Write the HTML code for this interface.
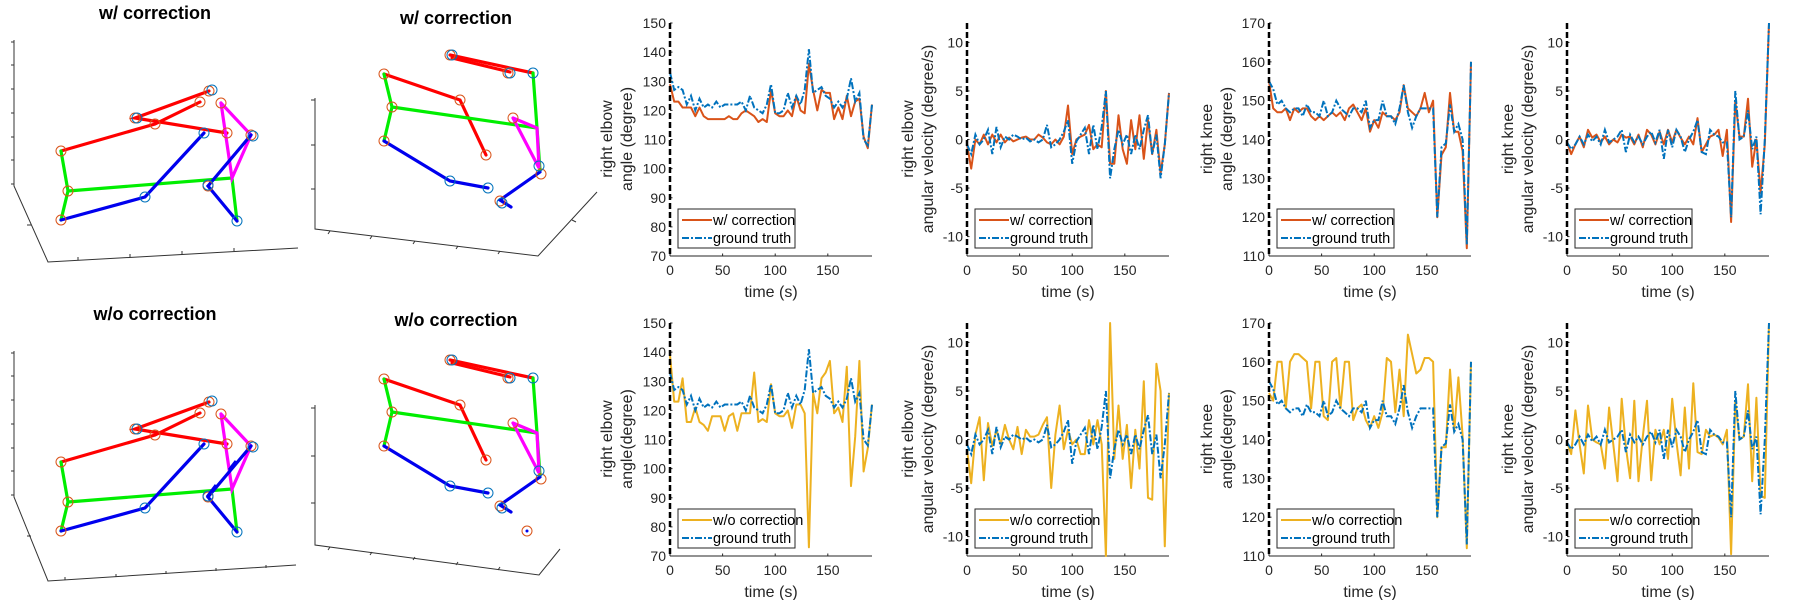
<!DOCTYPE html>
<html><head><meta charset="utf-8"><style>
html,body{margin:0;padding:0;background:#fff;}
svg{display:block;font-family:"Liberation Sans",sans-serif;}
</style></head><body>
<svg id="fig" width="1800" height="600" viewBox="0 0 1800 600" xmlns="http://www.w3.org/2000/svg">
<defs>
<g id="skel1">
  <g stroke-width="3.2" fill="none" stroke-linecap="round">
    <polyline points="61,151 155,124 200,102" stroke="#ff0000"/>
    <polyline points="209,91 135,118 227,133" stroke="#ff0000"/>
    <polyline points="61,151 68,191 61,220" stroke="#00ee00"/>
    <polyline points="68,191 232,178 237,221" stroke="#00ee00"/>
    <polyline points="221,103 251,135 232,178 221,103" stroke="#ff00ff"/>
    <polyline points="61,220 145,197 204,133" stroke="#0000ee"/>
    <polyline points="237,221 208,186 251,135" stroke="#0000ee"/>
  </g>
  <g fill="none" stroke-width="1">
    <g stroke="#D95319"><circle cx="61" cy="151" r="5"/><circle cx="155" cy="124" r="5"/><circle cx="200" cy="102" r="5"/><circle cx="209" cy="91" r="5"/><circle cx="135" cy="118" r="5"/><circle cx="227" cy="133" r="5"/><circle cx="68" cy="191" r="5"/><circle cx="61" cy="220" r="5"/><circle cx="208" cy="186" r="5"/><circle cx="221" cy="103" r="5"/><circle cx="251" cy="135" r="5"/></g>
    <g stroke="#0072BD"><circle cx="212" cy="90" r="5"/><circle cx="137" cy="118" r="5"/><circle cx="204" cy="133" r="5"/><circle cx="145" cy="197" r="5"/><circle cx="237" cy="221" r="5"/><circle cx="208" cy="185" r="5"/><circle cx="253" cy="136" r="5"/></g>
  </g>
</g>
<g id="skel2">
  <g stroke-width="3.2" fill="none" stroke-linecap="round">
    <polyline points="450,55 533,73" stroke="#ff0000"/>
    <polyline points="452,58 510,72" stroke="#ff0000"/>
    <polyline points="384,74 460,100 486,155" stroke="#ff0000"/>
    <polyline points="384,74 392,107 384,141" stroke="#00ee00"/>
    <polyline points="392,107 537,128" stroke="#00ee00"/>
    <polyline points="533,73 537,128 540,170" stroke="#00ee00"/>
    <polyline points="513,118 537,128 539,168 513,118" stroke="#ff00ff"/>
    <polyline points="384,141 450,181 488,188" stroke="#0000ee"/>
    <polyline points="540,172 500,200 511,207" stroke="#0000ee"/>
  </g>
  <g fill="none" stroke-width="1">
    <g stroke="#D95319"><circle cx="450" cy="55" r="5"/><circle cx="384" cy="74" r="5"/><circle cx="460" cy="100" r="5"/><circle cx="486" cy="155" r="5"/><circle cx="392" cy="107" r="5"/><circle cx="384" cy="141" r="5"/><circle cx="508" cy="73" r="5"/><circle cx="513" cy="118" r="5"/><circle cx="541" cy="174" r="5"/><circle cx="500" cy="201" r="5"/></g>
    <g stroke="#0072BD"><circle cx="452" cy="55" r="5"/><circle cx="510" cy="73" r="5"/><circle cx="533" cy="73" r="5"/><circle cx="450" cy="181" r="5"/><circle cx="488" cy="188" r="5"/><circle cx="539" cy="166" r="5"/><circle cx="502" cy="203" r="5"/></g>
  </g>
</g>
</defs>

<g>
  <text x="155" y="19" text-anchor="middle" font-size="18" font-weight="bold">w/ correction</text>
  <g stroke="#333" stroke-width="1" fill="none">
    <polyline points="14,40 14,186 48,262 298,248"/>
    <path d="M14,42h-3M14,65h-3M14,89h-3M14,113h-3M14,137h-3M14,160h-3M14,184h-3M31,225h-4M78,260v-3M130,257v-3M182,254v-3M234,251v-3"/>
  </g>
  <use href="#skel1"/>
</g>
<g>
  <text x="456" y="24" text-anchor="middle" font-size="18" font-weight="bold">w/ correction</text>
  <g stroke="#333" stroke-width="1" fill="none">
    <polyline points="315,98 315,229 538,256 597,192"/>
    <path d="M315,100h-4M315,145h-4M315,189h-4M330,231l-2,3M372,236l-2,3M415,241l-2,3M458,246l-2,3M500,251l-2,3M572,220l4,2"/>
  </g>
  <use href="#skel2"/>
</g>
<g>
  <text x="155" y="320" text-anchor="middle" font-size="18" font-weight="bold">w/o correction</text>
  <g transform="translate(0,311)">
    <g stroke="#333" stroke-width="1" fill="none">
      <polyline points="14,40 14,186 48,270 296,254"/>
      <path d="M14,42h-3M14,65h-3M14,89h-3M14,113h-3M14,137h-3M14,160h-3M14,184h-3M31,225h-4M65,269v-3M116,266v-3M166,263v-3M216,260v-3M266,257v-3"/>
    </g>
    <use href="#skel1"/>
    <g stroke="#0000ee" stroke-width="3" fill="none"><path d="M207,186 L216,174 M229,159 L236,150"/></g>
  </g>
</g>
<g>
  <text x="456" y="326" text-anchor="middle" font-size="18" font-weight="bold">w/o correction</text>
  <g transform="translate(0,305)">
    <g stroke="#333" stroke-width="1" fill="none">
      <polyline points="315,100 315,240 539,270 560,244"/>
      <path d="M315,103h-4M315,151h-4M315,198h-4M330,242l-2,3M372,247l-2,3M415,252l-2,3M458,257l-2,3M500,262l-2,3"/>
    </g>
    <use href="#skel2"/>
    <circle cx="527" cy="226" r="5" fill="none" stroke="#D95319"/><circle cx="527" cy="226" r="1.5" fill="#0000ee"/>
  </g>
</g>

<g id="charts"></g>
</svg>
<script>
const times = [0,4,8,12,16,20,24,28,32,36,40,44,48,52,56,60,64,68,72,76,80,84,88,92,96,100,104,108,112,116,120,124,128,132,136,140,144,148,152,156,160,164,168,172,176,180,184,188,192];
const elbowGT = [133,127,128,127,122,125,120,124,121,122,121,123,121,122,122,122,122,123,120,125,121,120,119,122,129,119,119,120,126,121,125,122,127,141,126,127,128,125,124,121,123,121,124,131,123,126,110,108,122];
const elbowW = [129,123,123,121,121,121,118,121,118,117,117,117,117,117,118,117,117,119,120,119,118,116,117,116,127,119,118,118,120,118,125,120,119,136,127,120,127,126,126,117,121,117,125,118,123,124,111,107,122];
const elbowWo = [139,123,123,131,116,116,121,116,115,113,118,118,118,113,118,119,113,119,119,119,133,116,117,116,129,119,118,118,120,114,122,122,119,73,126,119,131,133,137,119,121,116,135,94,111,137,99,107,122];
const elbowVelGT = [-0.5,-1.5,0.5,-0.5,0,1,-1.5,1.3,-0.8,0.3,0,0.5,0.3,0,0.2,-0.2,0,-0.3,0,1.5,-0.8,-0.5,0,0.8,2,-2.5,-0.2,0.5,1.2,-1.5,1.5,-1,1.3,5,-4,-1,1,-0.5,0.5,-1.5,0.5,-1,1,2.5,-1.5,0.5,-4,-0.5,4.8];
const elbowVelW = [-0.5,-3,0,-0.5,0.5,-0.5,0.5,-0.3,0.5,-0.3,0.2,-0.2,0,0.2,0.3,0,0,0.5,0.2,-0.3,-0.5,0,-0.5,0.3,3.5,-1.5,0,0.3,0.5,1.5,-1,-0.5,-0.8,5,-2.5,-2.5,2.5,-1,-2.5,2,-1,2.5,-2,2,-1.5,1,-3.5,-0.5,4.8];
const elbowVelWo = [-1,-4.5,0.5,2.3,-4.2,1.7,-0.7,1,-0.5,1.5,0,-1,1.3,-1.5,1,0.3,0.3,0.5,1.5,2.3,-5,0.5,3.5,-1,1,-0.5,0,-1.5,-1.5,2,-0.5,2,-0.5,-12,12,-2,3.5,-2,1.5,-5,1,-3,6,-6,-6.2,7.8,5,-11,4.8];
const kneeGT = [155,153,149,150,148,147,148,148,146,149,147,147,146,150,146,147,150,148,147,146,148,148,147,150,143,145,145,150,146,146,144,148,154,147,143,146,148,148,148,148,120,138,139,149,142,144,140,113,160];
const kneeW = [155,148,147,147,148,145,148,147,148,148,146,145,146,145,146,147,146,147,145,148,149,147,145,148,142,145,143,147,146,146,145,147,154,148,147,146,148,152,147,150,120,136,138,152,142,142,137,112,160];
const kneeWo = [152,150,160,160,148,160,162,162,161,160,148,160,160,146,145,160,161,148,160,160,145,148,149,145,143,146,143,147,161,160,147,158,146,167,162,157,158,161,161,160,120,138,138,158,142,156,141,112,160];
const kneeVelGT = [-0.3,-1,-0.5,0.3,-0.5,0.5,-0.2,0.3,-0.5,1,-0.3,0,0.3,1,-1.3,0.5,-0.3,0.3,-0.5,0.3,0.8,-0.3,1,-2,1,-0.8,1,0.3,-1.3,0,0.8,2,-1.3,-1.5,1,0.5,0.3,-0.3,-0.3,-8,5,0,0.3,3,-1,0.3,-7.7,0,12];
const kneeVelW = [-0.3,-1.5,-0.5,0.3,-0.8,1,0.2,0.5,-0.3,0.3,-0.5,0,-0.3,0.5,0.2,0.3,-0.5,0.5,-0.8,1,0.5,-0.5,0.8,-0.5,1,-0.3,1,0.2,-0.5,0.3,-0.5,2.2,-1.3,-0.5,0.3,0.5,1,-1.7,1,-8.5,4,0.3,0.3,4.2,-2.8,0,-5.5,-0.5,12];
const kneeVelWo = [-0.3,-1.5,3,-0.5,-3.5,3.5,0,-0.3,-0.5,-3,3.3,-0.5,-4.3,4.2,-0.8,-4,4,-4.3,0.3,4,-4.2,1,-0.5,1,-2,4.2,-0.2,-3.7,3.3,-3,5.8,-1.3,-1.5,1,0.3,0.5,0.2,-0.5,1,-11.8,4,0,0.3,5.7,-4.3,4.3,-5.8,-6,12];
const angleTicksElbow = [70,80,90,100,110,120,130,140,150];
const angleTicksKnee = [110,120,130,140,150,160,170];
const velTicks = [-10,-5,0,5,10];
const timeTicks = [0,50,100,150];

const NS = "http://www.w3.org/2000/svg";
const root = document.getElementById('charts');
function mk(tag, attrs, parent){const e=document.createElementNS(NS,tag);for(const k in attrs)e.setAttribute(k,attrs[k]);parent.appendChild(e);return e;}

function drawChart(c){
  const g = mk('g',{},root);
  
  
  const W=202, H=233, L=c.left, T=c.top;
  const xs = v => L + v/192*W;
  const ys = v => T + H - (v-c.ymin)/(c.ymax-c.ymin)*H;
  const ax = mk('line',{x1:L,y1:T+H,x2:L+W,y2:T+H,stroke:'#262626','stroke-width':1},g);
  
  
  timeTicks.forEach(t=>{
    mk('line',{x1:xs(t),y1:T+H,x2:xs(t),y2:T+H-2.5,stroke:'#262626','stroke-width':1},g);
    const tx = mk('text',{x:xs(t),y:T+H+19,'text-anchor':'middle','font-size':14,fill:'#262626'},g);
    tx.textContent=t;
    
    
  });
  c.ticks.forEach(t=>{
    mk('line',{x1:L,y1:ys(t),x2:L+2.5,y2:ys(t),stroke:'#262626','stroke-width':1},g);
    const tx = mk('text',{x:L-4,y:ys(t)+5,'text-anchor':'end','font-size':14,fill:'#262626'},g);
    tx.textContent=t;
    
    
  });
  const xl = mk('text',{x:L+W/2,y:T+H+41,'text-anchor':'middle','font-size':16,fill:'#262626'},g);
  xl.textContent='time (s)';
  
  
  const cy = T+116;
  c.ylab.forEach((s,i)=>{
    const x = c.ylx[i];
    const yl = mk('text',{x:x,y:cy,'text-anchor':'middle','font-size':16,fill:'#262626',transform:`rotate(-90 ${x} ${cy})`},g);
    yl.textContent=s;
    
    
  });
  const pts = arr => arr.map((v,i)=>xs(times[i]).toFixed(1)+','+ys(Math.max(c.ymin,Math.min(c.ymax,v))).toFixed(1)).join(' ');
  const s1 = mk('polyline',{points:pts(c.pred),fill:'none',stroke:c.color,'stroke-width':2,'stroke-linejoin':'round'},g);
  
  
  const s2 = mk('polyline',{points:pts(c.gt),fill:'none',stroke:'#0072BD','stroke-width':2,'stroke-dasharray':'7,2,2,2'},g);
  
  
  const zl = mk('line',{x1:L,y1:T,x2:L,y2:T+H,stroke:'#000','stroke-width':2.5,'stroke-dasharray':'6,3'},g);
  
  
  const lg = mk('g',{},g);
  
  
  const lw = c.label.length>14?125:117;
  mk('rect',{x:L+8,y:T+186,width:lw,height:39,fill:'#fff',stroke:'#262626','stroke-width':1},lg);
  mk('line',{x1:L+12,y1:T+197,x2:L+42,y2:T+197,stroke:c.color,'stroke-width':2},lg);
  mk('line',{x1:L+12,y1:T+215,x2:L+42,y2:T+215,stroke:'#0072BD','stroke-width':2,'stroke-dasharray':'7,2,2,2'},lg);
  const t1 = mk('text',{x:L+43,y:T+202,'font-size':14.5,fill:'#000'},lg); t1.textContent=c.label;
  
  
  const t2 = mk('text',{x:L+43,y:T+220,'font-size':14.5,fill:'#000'},lg); t2.textContent='ground truth';
  
  
}
const RED='#D95319', YEL='#EDB120';
const rows=[{top:23,label:'w/ correction',color:RED,k:0},{top:323,label:'w/o correction',color:YEL,k:1}];
rows.forEach(r=>{
  const sfx = r.k? 'wo':'w';
  drawChart({name:'chart-elbow-angle-'+sfx,left:670,top:r.top,ymin:70,ymax:150,ticks:angleTicksElbow,ylab:['right elbow',r.k?'angle(degree)':'angle (degree)'],ylx:[612,632],pred:r.k?elbowWo:elbowW,gt:elbowGT,label:r.label,color:r.color});
  drawChart({name:'chart-elbow-velocity-'+sfx,left:967,top:r.top,ymin:-12,ymax:12,ticks:velTicks,ylab:['right elbow','angular velocity (degree/s)'],ylx:[913,933],pred:r.k?elbowVelWo:elbowVelW,gt:elbowVelGT,label:r.label,color:r.color});
  drawChart({name:'chart-knee-angle-'+sfx,left:1269,top:r.top,ymin:110,ymax:170,ticks:angleTicksKnee,ylab:['right knee',r.k?'angle(degree)':'angle (degree)'],ylx:[1212,1232],pred:r.k?kneeWo:kneeW,gt:kneeGT,label:r.label,color:r.color});
  drawChart({name:'chart-knee-velocity-'+sfx,left:1567,top:r.top,ymin:-12,ymax:12,ticks:velTicks,ylab:['right knee','angular velocity (degree/s)'],ylx:[1513,1533],pred:r.k?kneeVelWo:kneeVelW,gt:kneeVelGT,label:r.label,color:r.color});
});
</script>
</body></html>
